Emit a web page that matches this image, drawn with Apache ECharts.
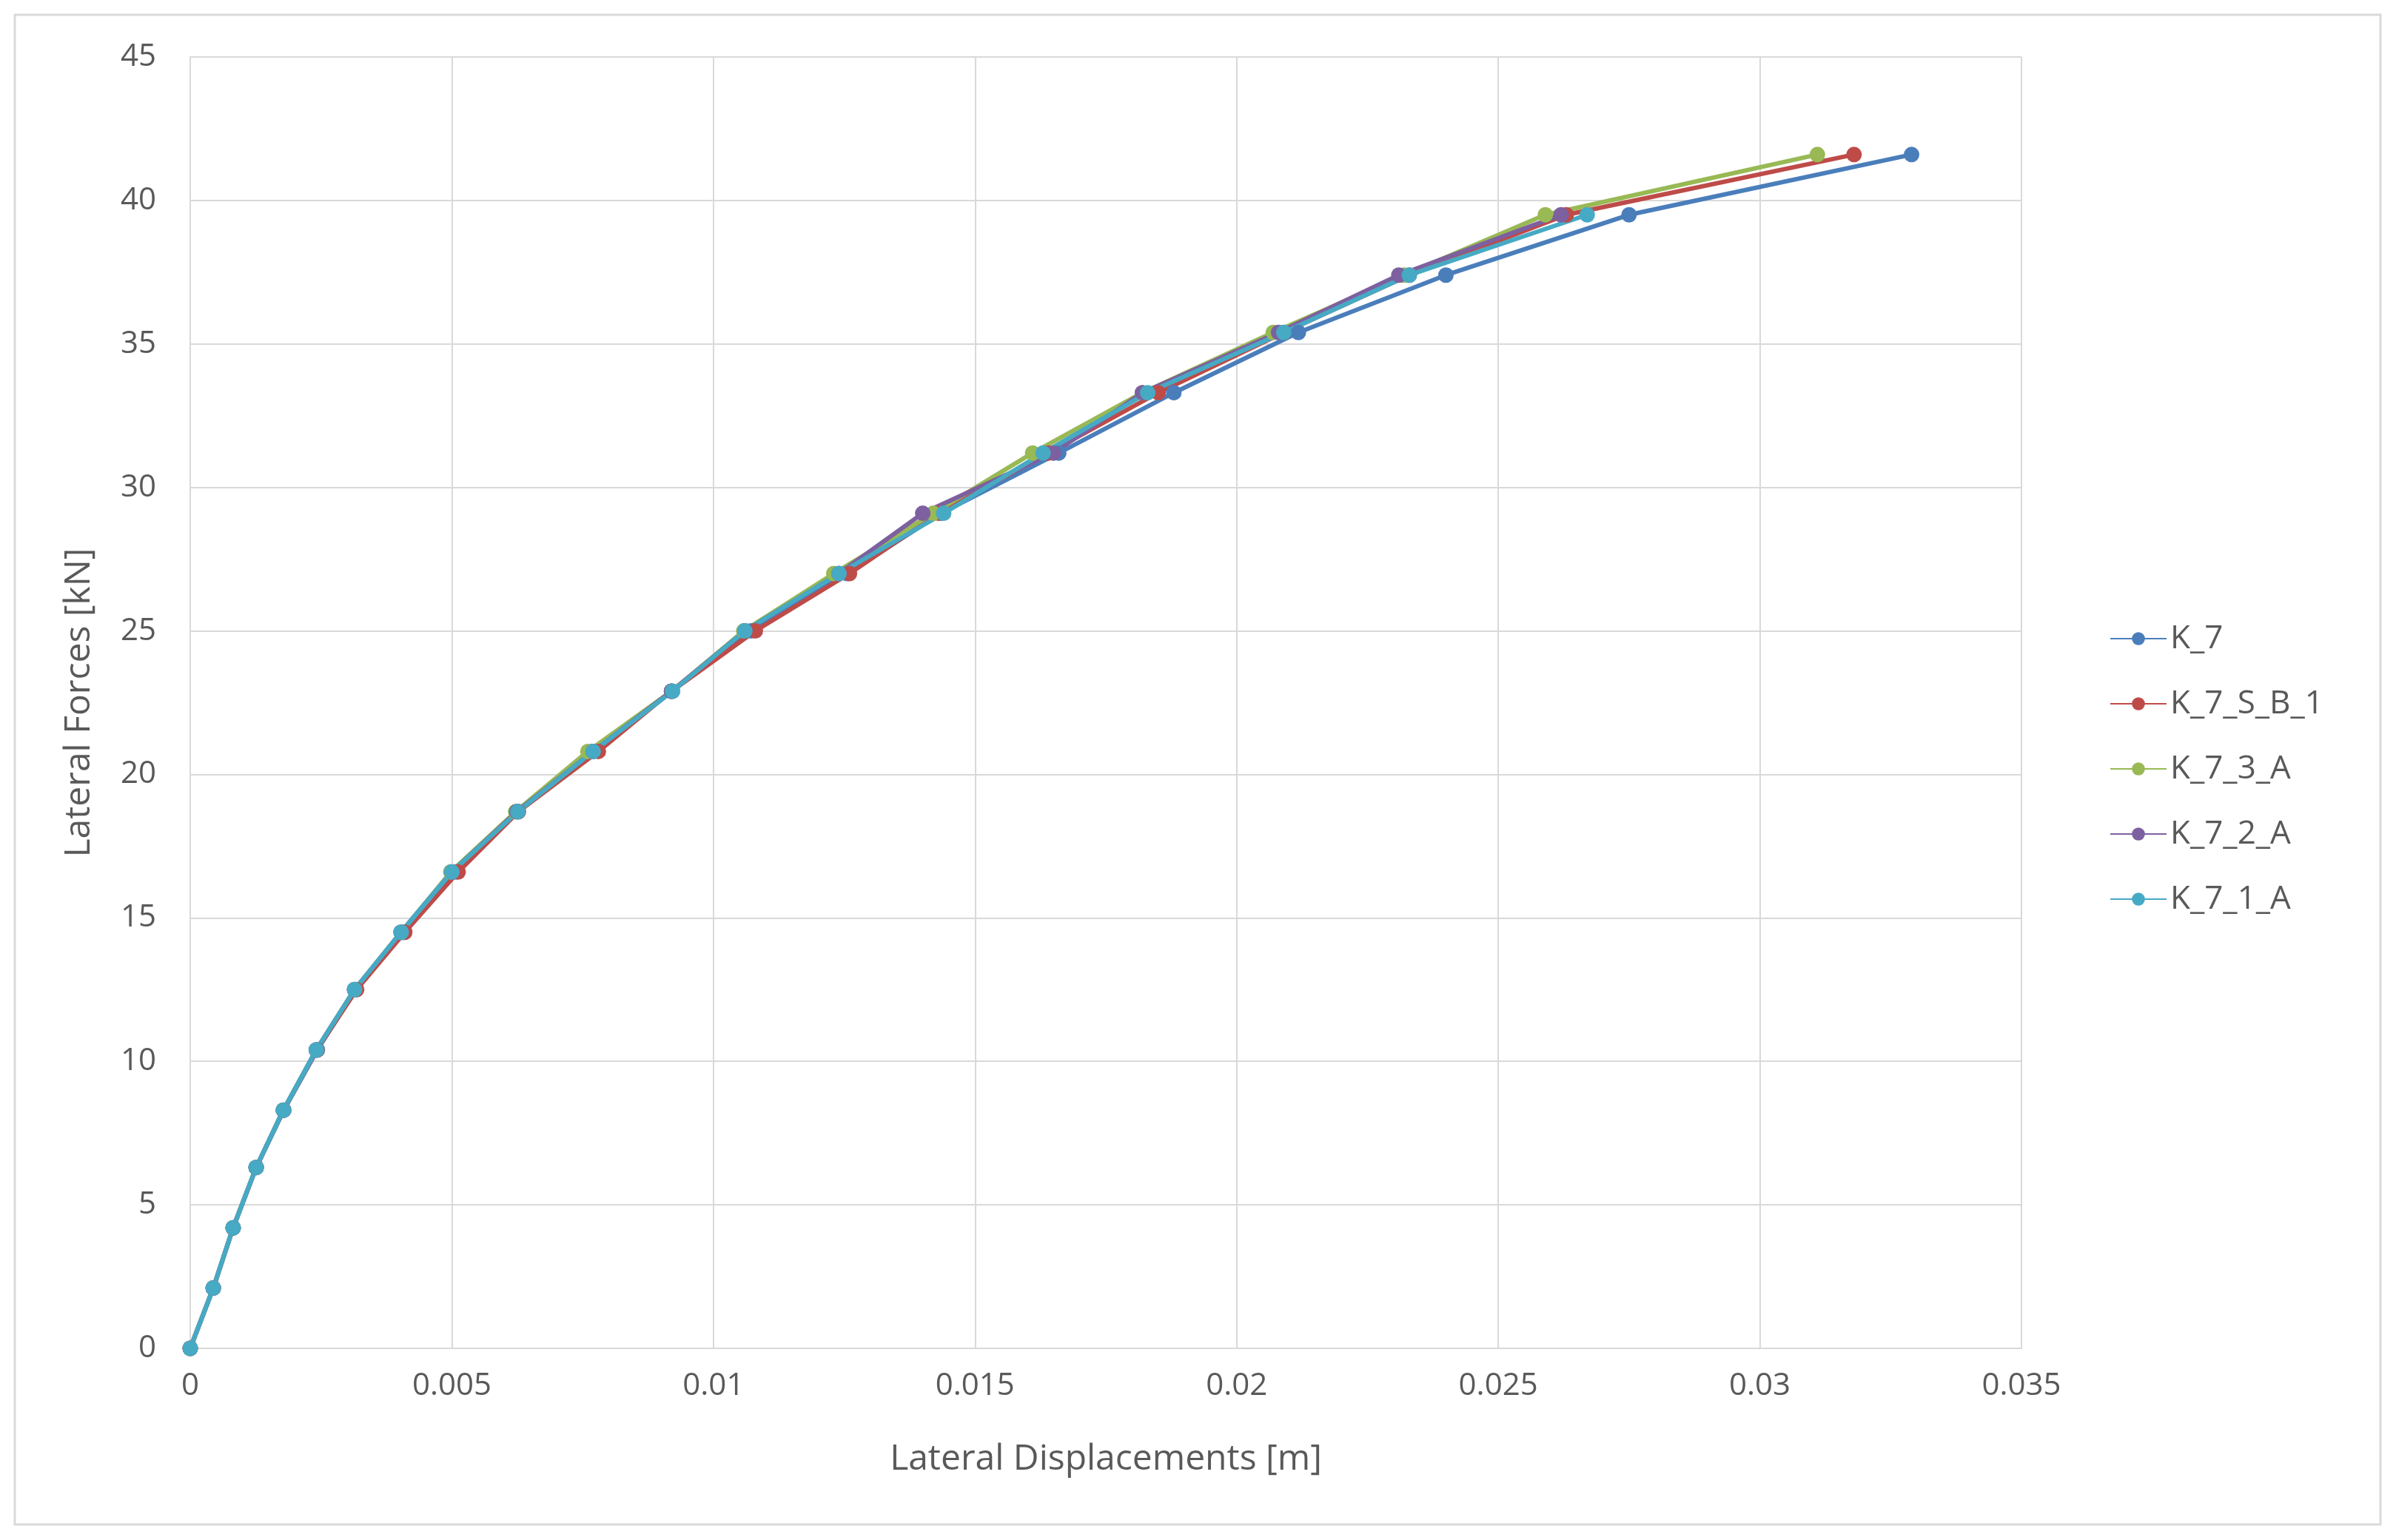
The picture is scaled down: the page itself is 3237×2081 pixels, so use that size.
<!DOCTYPE html>
<html><head><meta charset="utf-8">
<script src="https://cdn.jsdelivr.net/npm/echarts@6/dist/echarts.min.js"></script>
<style>html,body{margin:0;background:#fff}#c{width:3237px;height:2081px}</style>
</head><body><div id="c"></div>
<script>
const forces = [0,2.1,4.2,6.3,8.3,10.4,12.5,14.5,16.6,18.7,20.8,22.9,25.0,27.0,29.1,31.2,33.3,35.4,37.4,39.5,41.6];
const dispK7 =    [0,0.00044,0.00082,0.00126,0.00179,0.00243,0.00316,0.00407,0.00507,0.00627,0.0077,0.0092,0.01072,0.01256,0.01435,0.0166,0.0188,0.02118,0.0240,0.0275,0.0329];
const dispKSB1 =  [0,0.00044,0.00082,0.00126,0.00178,0.00242,0.00318,0.00410,0.00512,0.00627,0.0078,0.0092,0.0108,0.0126,0.0143,0.0164,0.0185,0.0209,0.0233,0.0263,0.0318];
const dispK73A =  [0,0.00044,0.00082,0.00126,0.00178,0.00241,0.00314,0.00403,0.00498,0.00622,0.0076,0.0092,0.01058,0.0123,0.0142,0.0161,0.0182,0.0207,0.0232,0.0259,0.0311];
const dispK72A =  [0,0.00044,0.00082,0.00126,0.00178,0.00241,0.00314,0.00403,0.00500,0.00624,0.0077,0.0092,0.0106,0.0124,0.0140,0.0165,0.0182,0.0208,0.0231,0.0262];
const dispK71A =  [0,0.00044,0.00082,0.00126,0.00178,0.00241,0.00314,0.00403,0.00500,0.00626,0.0077,0.00922,0.0106,0.0124,0.0144,0.0163,0.0183,0.0209,0.0233,0.0267];
const names = ['K_7','K_7_S_B_1','K_7_3_A','K_7_2_A','K_7_1_A'];
const colors = ['#4a7ebb','#be4b48','#98b954','#7d60a0','#46aac5'];
const all = [dispK7,dispKSB1,dispK73A,dispK72A,dispK71A];
const font = '"Open Sans", "Liberation Sans", sans-serif';
const chart = echarts.init(document.getElementById('c'));
chart.setOption({
  animation:false,
  backgroundColor:'#fff',
  color:colors,
  graphic:[{type:'rect',shape:{x:20,y:20,width:3196,height:2040},style:{fill:'none',stroke:'#d9d9d9',lineWidth:3}}],
  grid:{left:257,right:506,top:77,bottom:259},
  legend:{orient:'vertical',left:2845,top:836,itemGap:44,itemWidth:76,itemHeight:22,
    textStyle:{fontSize:44,color:'#595959',fontFamily:font},data:names},
  xAxis:{type:'value',min:0,max:0.035,interval:0.005,
    name:'Lateral Displacements [m]',nameLocation:'middle',nameGap:126,
    nameTextStyle:{fontSize:48,color:'#595959',fontFamily:font},
    axisLine:{lineStyle:{color:'#d9d9d9',width:2}},axisTick:{show:false},
    axisLabel:{fontSize:42,color:'#595959',fontFamily:font,margin:30,formatter:v=>String(+v.toFixed(3))},
    splitLine:{lineStyle:{color:'#d9d9d9',width:2}}},
  yAxis:{type:'value',min:0,max:45,interval:5,
    name:'Lateral Forces [kN]',nameLocation:'middle',nameGap:126,
    nameTextStyle:{fontSize:48,color:'#595959',fontFamily:font},
    axisLine:{show:true,lineStyle:{color:'#d9d9d9',width:2}},axisTick:{show:false},
    axisLabel:{fontSize:42,color:'#595959',fontFamily:font,margin:46},
    splitLine:{lineStyle:{color:'#d9d9d9',width:2}}},
  series: all.map((d,i)=>({name:names[i],type:'line',symbol:'circle',symbolSize:21,
    lineStyle:{width:6},
    data:d.map((x,j)=>[x,forces[j]])}))
});
</script></body></html>
